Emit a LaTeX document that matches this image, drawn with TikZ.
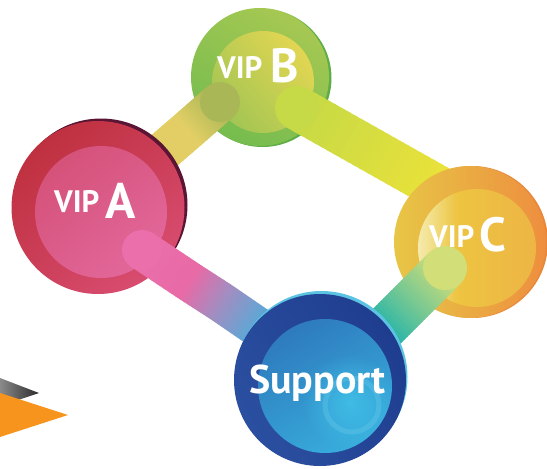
\documentclass[tikz,border=0pt]{standalone}
\usepackage{fontspec}
\newfontfamily\labfont{PT Sans}
\usetikzlibrary{calc,fadings}
\definecolor{abB}{HTML}{A9B757}
\definecolor{abA}{HTML}{E2CE64}
\definecolor{bcB}{HTML}{C6D946}
\definecolor{bcC}{HTML}{EEE338}
\definecolor{asA}{HTML}{EA6FAA}
\definecolor{asP}{HTML}{E86AA6}
\definecolor{asU}{HTML}{A48DC1}
\definecolor{asL}{HTML}{5CA8D6}
\definecolor{asE}{HTML}{4C9FD4}
\definecolor{csC}{HTML}{D2DE78}
\definecolor{csS}{HTML}{2CB6A8}
\definecolor{triO}{HTML}{F7941D}
\definecolor{triL}{HTML}{8A8A8A}
\definecolor{triD}{HTML}{2B2B2B}
\definecolor{aRim}{HTML}{5A1535}
\definecolor{aOut1}{HTML}{BF303F}
\definecolor{aOut2}{HTML}{D84C70}
\definecolor{aIn1}{HTML}{D5527A}
\definecolor{aIn2}{HTML}{E2679A}
\definecolor{bRim}{HTML}{5EAD45}
\definecolor{bOut1}{HTML}{A6C852}
\definecolor{bOut2}{HTML}{76BC4F}
\definecolor{bIn1}{HTML}{E2D652}
\definecolor{bIn2}{HTML}{A2C553}
\definecolor{cRim}{HTML}{E8883B}
\definecolor{cOut1}{HTML}{E7C646}
\definecolor{cOut2}{HTML}{EE8E3F}
\definecolor{cIn1}{HTML}{F5EBB0}
\definecolor{cIn2}{HTML}{EECB3F}
\definecolor{cIn3}{HTML}{EDB545}
\definecolor{sRim}{HTML}{5DC3E2}
\definecolor{sOut1}{HTML}{2B4FA0}
\definecolor{sOut2}{HTML}{1F3D8F}
\definecolor{sIn1}{HTML}{2E7BBD}
\definecolor{sIn2}{HTML}{38ACDC}
\definecolor{sGlow}{HTML}{42C4EA}
\tikzfading[name=glowfade, inner color=transparent!0, outer color=transparent!100]
\tikzfading[name=leftfade, left color=transparent!0, right color=transparent!100]
\newcommand\mybar[5]{%
  \foreach \i in {0,...,23}{%
    \pgfmathsetmacro\pa{\i/24}%
    \pgfmathsetmacro\pb{(\i+1.6)/24}%
    \pgfmathsetmacro\pc{100-(\i+0.5)*100/24}%
    \draw[line width=#5, draw=#3!\pc!#4] ($(#1)!\pa!(#2)$) -- ($(#1)!\pb!(#2)$);
  }}
\begin{document}
\begin{tikzpicture}[x=1pt,y=-1pt,
  lab/.style={text=white, inner sep=0pt, font=\labfont\bfseries}]
\useasboundingbox (0,0) rectangle (547,469);
% centres
\coordinate (A) at (98,207.5);
\coordinate (Ai) at (101,212);
\coordinate (B) at (260,77);
\coordinate (Bi) at (263,82);
\coordinate (C) at (470,242);
\coordinate (Ci) at (477,248);
\coordinate (S) at (320,380);
\coordinate (Si) at (325,386);
% bar ends
\coordinate (abB) at (220,102);
\coordinate (abM) at (188,130);
\coordinate (abA) at (130,180);
\coordinate (bcB) at (297,108);
\coordinate (bcC) at (455,197);
\coordinate (asA) at (142,250);
\coordinate (as1) at (190,282);
\coordinate (as2) at (221,302);
\coordinate (as3) at (256,326);
\coordinate (asS) at (300,355);
\coordinate (csC) at (445,268);
\coordinate (cs1) at (385,328);
\coordinate (csS) at (365,348);
% triangles bottom-left
\coordinate (g1) at (0,378);
\coordinate (g2) at (39,393);
\coordinate (g3) at (0,406);
\coordinate (o1) at (0,393);
\coordinate (o2) at (68,415);
\coordinate (o3) at (0,437);
\shade[left color=triL, right color=triD] (g1) -- (g2) -- (g3) -- cycle;
\fill[triO] (o1) -- (o2) -- (o3) -- cycle;
% VIP B circle
\fill[bRim] ($(B)+(2.5,1)$) circle (69pt);
\shade[top color=bOut1, bottom color=bOut2, shading angle=-30] (B) circle (69pt);
\shade[top color=bIn1, bottom color=bIn2, shading angle=-50] (Bi) circle (51pt);
% bars from B
\mybar{abB}{abM}{abB}{abA}{40pt}
\mybar{abM}{abA}{abA}{abA}{40pt}
\fill[abB] (abB) circle (20pt);
\mybar{bcB}{bcC}{bcB}{bcC}{44pt}
\fill[bcB] (bcB) circle (22pt);
% VIP A circle
\fill[aRim] ($(A)+(3,-2.5)$) circle (86.5pt);
\shade[top color=aOut1, bottom color=aOut2, shading angle=40] (A) circle (86.5pt);
\shade[top color=aIn1, bottom color=aIn2, shading angle=40] (Ai) circle (66pt);
% VIP C circle
\fill[cRim] ($(C)+(2,0)$) circle (76pt);
\shade[left color=cOut1, right color=cOut2] (C) circle (76pt);
\shade[left color=cIn2, right color=cIn3] (Ci) circle (59pt);
\begin{scope}
\clip (Ci) circle (59pt);
\fill[cIn1, path fading=leftfade, even odd rule] ($(Ci)+(-59,-59)$) rectangle ($(Ci)+(-20,59)$);
\end{scope}
% bars to Support
\mybar{asA}{as1}{asA}{asP}{40pt}
\mybar{as1}{as2}{asP}{asU}{40pt}
\mybar{as2}{as3}{asU}{asL}{40pt}
\mybar{as3}{asS}{asL}{asE}{40pt}
\fill[asA] (asA) circle (20pt);
\mybar{csC}{cs1}{csC}{csS}{44pt}
\mybar{cs1}{csS}{csS}{csS}{44pt}
\fill[csC] (csC) circle (22pt);
% Support circle
\fill[sRim] ($(S)+(1.5,-3)$) circle (86pt);
\shade[top color=sOut1, bottom color=sOut2, shading angle=120] (S) circle (86pt);
\shade[top color=sIn1, bottom color=sIn2, shading angle=30] (Si) circle (67pt);
\begin{scope}
\clip (Si) circle (67pt);
\fill[sGlow, path fading=glowfade, opacity=0.8] (350,402) circle (48pt);
\end{scope}
\draw[sGlow!70!white, opacity=0.25, line width=5pt] (352,405) circle (27pt);
% labels
\node[lab, anchor=base west] (tA) at (54,218) {\raisebox{6pt}{\fontsize{31}{31}\selectfont VIP}\hspace{6pt}\fontsize{50}{50}\selectfont A};
\node[lab, anchor=base west] (tB) at (217,82) {\raisebox{4pt}{\fontsize{31}{31}\selectfont VIP}\hspace{8pt}\fontsize{48}{48}\selectfont B};
\node[lab, anchor=base west] (tC) at (429,251) {\raisebox{4pt}{\fontsize{31}{31}\selectfont VIP}\hspace{5pt}\fontsize{48}{48}\selectfont C};
\node[lab, anchor=base west] (tS) at (249,393) {\fontsize{40}{40}\selectfont Support};
\end{tikzpicture}
\end{document}
